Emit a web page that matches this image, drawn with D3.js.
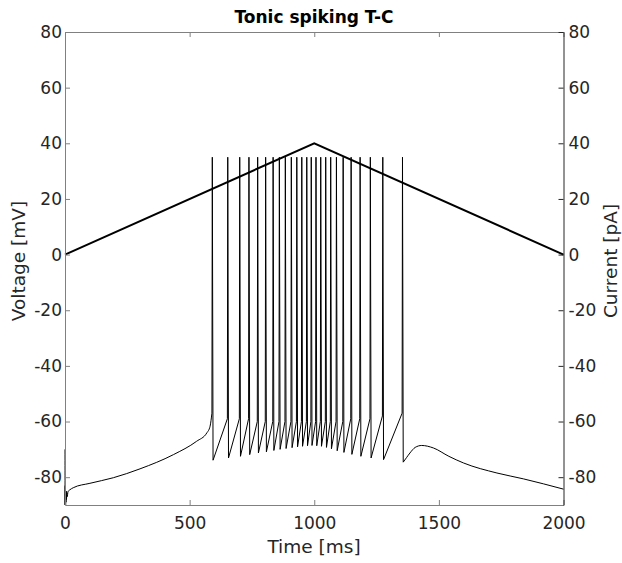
<!DOCTYPE html>
<html>
<head>
<meta charset="utf-8">
<script src="https://cdn.jsdelivr.net/npm/d3@7"></script>
<style>
  html, body { margin: 0; padding: 0; background: #fff; }
  svg { display: block; font-family: "DejaVu Sans", sans-serif; }
</style>
</head>
<body>
<svg id="chart" width="622" height="563"></svg>
<script>
// ---- data ----
const title = "Tonic spiking T-C";
const xTicks = [0, 500, 1000, 1500, 2000];
const yTicks = [-80, -60, -40, -20, 0, 20, 40, 60, 80];

// injected current (ramp), pA
const currentTime = [0, 1000, 2000];
const currentVal  = [0, 40, 0];

// membrane voltage before the first spike (ms, mV)
const preTime = [0, 0.5, 1, 1.5, 2, 2.5, 3, 4, 5, 6, 7, 9, 12, 20, 33, 100, 194, 301, 435, 528, 569, 582, 589.5];
const preVolt = [-70, -91, -83, -90, -84, -90, -85, -89, -85, -88, -85.5, -87, -85.2, -84.5, -83.8, -82.2, -80.2, -77.0, -71.9, -67.1, -64.1, -61.7, -57];

// spikes: time of the spike, voltage just before, trough after
const spikeTimes  = [591, 653, 701, 738, 773, 805, 835, 860, 884, 908, 930, 950, 970, 988, 1007, 1026, 1046, 1066, 1089, 1116, 1148, 1184, 1225, 1275, 1354];
const spikeThresh = [-57, -59, -59, -59, -60, -60, -60, -60, -60, -60, -60, -60, -60, -60, -60, -60, -60, -60, -60, -60, -59, -59, -59, -58, -57];
const spikeTrough = [-73.9, -73.1, -72.5, -71.9, -71.3, -70.9, -70.4, -70.0, -69.7, -69.4, -69.1, -68.9, -68.7, -68.6, -68.7, -68.9, -69.3, -69.8, -70.5, -71.1, -71.8, -72.5, -73.1, -73.7, -74.6];
const spikePeak = 35;

// voltage after the last spike
const postTime = [1357, 1370, 1384, 1405, 1431, 1478, 1540, 1599, 1733, 1839, 2000];
const postVolt = [-74.6, -73.0, -71.3, -69.3, -68.6, -69.5, -72.5, -74.9, -78.5, -80.6, -84.3];

// ---- chart ----
const svg = d3.select("#chart");
const x = d3.scaleLinear().domain([0, 2000]).range([65, 563.5]);
const yL = d3.scaleLinear().domain([-90, 80]).range([505, 32]);
const yR = d3.scaleLinear().domain([-90, 80]).range([505, 32]);

const gray = "#808080", dark = "#262626";

svg.append("defs").append("clipPath").attr("id", "clip")
  .append("rect").attr("x", 64).attr("y", 32).attr("width", 500).attr("height", 473);

const plot = svg.append("g").attr("clip-path", "url(#clip)");

const pre = preTime.map((t, i) => [t, preVolt[i]]);
const spk = [];
spikeTimes.forEach((t, i) => {
  spk.push([t - 1.5, spikeThresh[i]]);
  spk.push([t, spikePeak]);
  spk.push([t + 3, spikeTrough[i]]);
});
const post = postTime.map((t, i) => [t, postVolt[i]]);

const lineSmooth = d3.line().x(d => x(d[0])).y(d => yL(d[1])).curve(d3.curveMonotoneX);
const lineLin = d3.line().x(d => x(d[0])).y(d => yL(d[1]));

[ [pre, lineSmooth], [spk, lineLin], [post, lineSmooth] ].forEach(([d, gen]) => {
  plot.append("path").attr("d", gen(d)).attr("fill", "none")
    .attr("stroke", "#000").attr("stroke-width", 1).attr("stroke-linejoin", "round");
});

const cur = currentTime.map((t, i) => [t, currentVal[i]]);
plot.append("path")
  .attr("d", d3.line().x(d => x(d[0])).y(d => yR(d[1]))(cur))
  .attr("fill", "none").attr("stroke", "#000").attr("stroke-width", 2);

// axes
const fs = 17, fl = 18.5;
function style(g, col) {
  g.selectAll(".domain").attr("stroke", col);
  g.selectAll(".tick line").attr("stroke", col);
  g.selectAll(".tick text").attr("fill", dark).attr("font-size", fs).attr("font-family", "DejaVu Sans");
}
const gB = svg.append("g").attr("transform", "translate(0,505)")
  .call(d3.axisBottom(x).tickValues(xTicks).tickSizeInner(-5).tickSizeOuter(0).tickPadding(12).tickFormat(d3.format("d")));
style(gB, gray);
const gT = svg.append("g").attr("transform", "translate(0,32)")
  .call(d3.axisTop(x).tickValues(xTicks).tickSizeInner(-5).tickSizeOuter(0).tickFormat(""));
style(gT, gray);
const fmt = d => String(d).replace("\u2212", "-");
const gL = svg.append("g").attr("transform", "translate(65,0)")
  .call(d3.axisLeft(yL).tickValues(yTicks).tickSizeInner(-5).tickSizeOuter(0).tickPadding(3).tickFormat(fmt));
style(gL, gray);
const gR = svg.append("g").attr("transform", "translate(563.5,0)")
  .call(d3.axisRight(yR).tickValues(yTicks).tickSizeInner(-5).tickSizeOuter(0).tickPadding(5).tickFormat(fmt));
style(gR, dark);

// titles
svg.append("text").attr("x", 314).attr("y", 23).attr("text-anchor", "middle")
  .attr("font-size", 17).attr("font-weight", "bold").attr("fill", "#000").text(title);
svg.append("text").attr("x", 314).attr("y", 553).attr("text-anchor", "middle")
  .attr("font-size", fl).attr("fill", dark).text("Time [ms]");
svg.append("text").attr("transform", "translate(25,261) rotate(-90)").attr("text-anchor", "middle")
  .attr("font-size", fl).attr("fill", dark).text("Voltage [mV]");
svg.append("text").attr("transform", "translate(617,261) rotate(-90)").attr("text-anchor", "middle")
  .attr("font-size", fl).attr("fill", dark).text("Current [pA]");
</script>
</body>
</html>
